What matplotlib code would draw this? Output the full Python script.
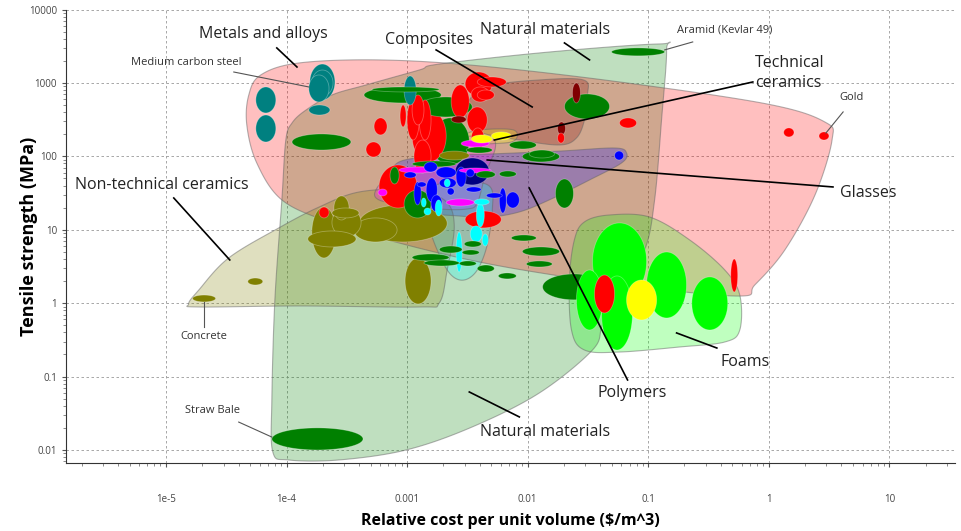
import matplotlib
matplotlib.use('Agg')
import matplotlib.pyplot as plt
import numpy as np

plt.rcParams['font.family'] = ['Open Sans', 'DejaVu Sans']

# material bubbles: (cost_lo, cost_hi, strength_lo, strength_hi)  [$/m^3 relative, MPa]
steels = [
    (5.56e-5, 8.15e-5, 390, 882), (5.56e-5, 8.15e-5, 157, 366),
    (1.56e-4, 2.52e-4, 587, 1810), (1.53e-4, 2.25e-4, 551, 1285),
    (1.62e-4, 2.43e-4, 665, 1500), (1.53e-4, 2.29e-4, 366, 501),
    (9.44e-4, 1.19e-3, 501, 1245),
]
nonferrous = [
    (5.32e-4, 6.82e-4, 196, 334), (4.56e-4, 6.08e-4, 98, 157),
    (8.74e-4, 9.81e-4, 252, 501), (1.00e-3, 1.26e-3, 167, 587),
    (1.10e-3, 1.38e-3, 268, 686), (1.26e-3, 1.58e-3, 167, 587),
    (1.10e-3, 2.11e-3, 84, 428), (5.85e-4, 1.21e-3, 19.8, 76.4),
    (1.14e-3, 1.58e-3, 59.4, 167), (2.32e-3, 3.28e-3, 334, 939),
    (3.03e-3, 5.09e-3, 665, 1410), (3.82e-3, 6.65e-3, 882, 1207),
    (3.82e-3, 5.29e-3, 587, 803), (3.15e-3, 4.62e-3, 208, 471),
    (3.40e-3, 4.80e-3, 551, 882), (3.40e-3, 4.37e-3, 122, 244),
    (5.78e-2, 8.01e-2, 244, 334), (1.77e-2, 2.02e-2, 152, 208),
    (1.33, 1.62, 184, 244), (2.61, 3.16, 167, 215),
    (0.484, 0.553, 1.42, 4.0), (3.58e-2, 5.26e-2, 0.735, 2.42),
    (3.03e-3, 6.04e-3, 10.6, 18.0), (1.86e-4, 2.25e-4, 14.5, 20.4),
]
composites = [
    (2.35e-2, 2.74e-2, 534, 1000), (1.77e-2, 2.06e-2, 196, 294),
    (2.32e-3, 3.09e-3, 285, 355),
]
natural = [
    (4.96e-2, 0.137, 2340, 3000), (7.55e-5, 4.31e-4, 0.010, 0.020),
    (1.11e-4, 3.42e-4, 122, 202), (4.39e-4, 1.92e-3, 534, 882),
    (5.12e-4, 1.85e-3, 754, 882), (1.26e-3, 3.47e-3, 344, 645),
    (1.58e-3, 3.28e-3, 76.4, 334), (2.02e-2, 4.78e-2, 323, 708),
    (7.05e-3, 1.18e-2, 126, 162), (9.03e-3, 1.84e-2, 83.9, 118),
    (1.03e-2, 1.67e-2, 95.1, 122), (5.82e-3, 8.05e-3, 52.4, 63.3),
    (1.70e-2, 2.40e-2, 19.8, 49.2), (3.75e-3, 5.39e-3, 50.8, 63.3),
    (7.32e-3, 1.18e-2, 7.04, 8.50), (1.85e-3, 2.86e-3, 4.83, 6.01),
    (2.98e-3, 4.12e-3, 5.83, 7.04), (2.86e-3, 3.97e-3, 4.54, 5.31),
    (9.03e-3, 1.84e-2, 4.40, 5.83), (9.75e-3, 1.60e-2, 3.11, 3.76),
    (3.82e-3, 5.29e-3, 2.66, 3.31), (5.71e-3, 8.05e-3, 2.14, 2.58),
    (1.10e-3, 2.23e-3, 3.76, 4.68), (1.38e-3, 2.71e-3, 3.21, 3.88),
    (2.71e-3, 3.75e-3, 3.21, 3.76), (1.33e-2, 4.43e-2, 1.11, 2.50),
    (9.44e-4, 1.58e-3, 14.5, 34.8), (7.22e-4, 8.58e-4, 42.1, 71.7),
    (1.10e-3, 2.55e-3, 71.7, 86.5), (3.09e-3, 5.09e-3, 111, 134),
]
nontech_ceramics = [
    (1.66e-5, 2.58e-5, 1.04, 1.29), (4.77e-5, 6.35e-5, 1.77, 2.20),
    (1.62e-4, 2.57e-4, 4.13, 20.4), (2.47e-4, 3.30e-4, 13.6, 28.9),
    (1.50e-4, 3.77e-4, 5.83, 9.63), (2.38e-4, 4.15e-4, 7.98, 19.8),
    (2.38e-4, 3.99e-4, 14.5, 19.8), (3.62e-4, 8.26e-4, 6.82, 14.5),
    (3.99e-4, 2.15e-3, 6.82, 21.8), (9.62e-4, 1.58e-3, 0.975, 4.13),
    (1.85e-3, 3.28e-3, 89.3, 118),
]
tech_ceramics = [
    (3.40e-3, 5.09e-3, 152, 196), (4.99e-3, 7.32e-3, 167, 215),
    (6.61e-2, 0.1175, 0.590, 2.07),
]
glasses = [
    (2.81e-3, 4.80e-3, 134, 167), (8.58e-4, 1.74e-3, 59.4, 71.7),
    (2.71e-3, 4.99e-3, 59.4, 69.5), (5.74e-4, 6.82e-4, 28.9, 35.9),
    (2.11e-3, 3.61e-3, 21.1, 26.3),
]
polymers = [
    (5.26e-2, 6.25e-2, 89.3, 118), (1.38e-3, 1.78e-3, 61.3, 83.9),
    (1.74e-3, 2.55e-3, 50.8, 71.7), (1.85e-3, 2.55e-3, 37.1, 50.8),
    (1.14e-3, 1.31e-3, 21.8, 44.8), (1.44e-3, 1.78e-3, 23.9, 50.8),
    (9.44e-4, 1.19e-3, 50.8, 61.3), (2.55e-3, 3.09e-3, 38.3, 71.7),
    (3.09e-3, 3.61e-3, 52.4, 67.3), (1.58e-3, 1.95e-3, 17.5, 29.8),
    (4.54e-3, 6.16e-3, 27.1, 31.7), (5.82e-3, 6.65e-3, 16.9, 37.1),
    (6.65e-3, 8.53e-3, 19.8, 32.7), (3.09e-3, 4.12e-3, 32.7, 38.3),
    (2.15e-3, 2.46e-3, 29.8, 37.1), (1.21e-3, 1.44e-3, 38.3, 44.8),
]
thermosets = [
    (2.51e-3, 4.80e-3, 40.8, 95.1),
]
elastomers = [
    (2.03e-3, 2.28e-3, 38.3, 49.2), (1.31e-3, 1.44e-3, 20.4, 27.1),
    (1.38e-3, 1.58e-3, 15.9, 19.8), (1.71e-3, 1.95e-3, 15.4, 25.5),
    (3.61e-3, 4.80e-3, 21.8, 26.3), (3.75e-3, 4.37e-3, 10.9, 23.2),
    (3.34e-3, 4.20e-3, 6.82, 11.3), (4.20e-3, 4.71e-3, 6.01, 8.77),
    (2.55e-3, 2.86e-3, 2.66, 9.33),
]
foams = [
    (3.45e-2, 9.70e-2, 1.11, 12.4), (9.70e-2, 0.208, 0.628, 4.98),
    (0.230, 0.457, 0.431, 2.28), (2.54e-2, 4.18e-2, 0.431, 2.83),
    (4.10e-2, 7.41e-2, 0.230, 2.35),
]

bubble_sets = [
    (natural, '#008000'), (nontech_ceramics, '#808000'), (steels, '#008080'),
    (nonferrous, '#ff0000'), (composites, '#800000'), (foams, '#00ff00'),
    (tech_ceramics, '#ffff00'), (glasses, '#ff00ff'), (polymers, '#0000ff'),
    (thermosets, '#000080'), (elastomers, '#00ffff'),
]

# family envelopes: outline points (cost, strength)
natural_env = [
    (9.86e-5, 167), (1.11e-4, 285), (1.45e-4, 428), (2.38e-4, 686), (4.56e-4, 939),
    (1.26e-3, 1500), (1.85e-3, 1810), (1.51e-2, 2640), (0.124, 3400), (0.142, 2820),
    (0.129, 313), (0.113, 25.5), (9.34e-2, 5.31), (5.78e-2, 1.51), (4.18e-2, 0.505),
    (3.45e-2, 0.230), (1.25e-2, 0.0598), (3.47e-3, 0.0206), (9.81e-4, 0.0100),
    (2.72e-4, 0.00731), (1.04e-4, 0.00731), (7.69e-5, 0.0094), (7.55e-5, 0.048),
    (8.0e-5, 1.11), (9.14e-5, 25.5),
]
metals_env = [
    (4.86e-5, 686), (6.11e-5, 1285), (1.26e-4, 1870), (5.85e-4, 2060), (3.97e-3, 1710),
    (5.78e-2, 1032), (0.964, 518), (2.92, 294), (3.35, 167), (2.42, 29.8), (1.36, 5.31),
    (0.766, 1.77), (0.575, 1.25), (8.49e-2, 1.66), (1.84e-2, 2.35), (3.97e-3, 3.64),
    (8.58e-4, 6.61), (2.25e-4, 12.8), (9.14e-5, 25.5), (5.66e-5, 81.3), (4.68e-5, 268),
]
nontech_env = [
    (1.54e-5, 0.975), (1.87e-5, 1.51), (3.31e-5, 4.13), (8.63e-5, 10.6), (1.86e-4, 20.4),
    (3.99e-4, 32.7), (1.04e-3, 34.8), (2.03e-3, 25.5), (2.46e-3, 11.6), (2.15e-3, 2.83),
    (1.85e-3, 1.01), (1.26e-3, 0.887), (1.26e-4, 0.916), (1.87e-5, 0.887),
]
foams_env = [
    (2.44e-2, 7.26), (2.96e-2, 12.8), (4.78e-2, 15.9), (0.1028, 14.9), (0.221, 7.26),
    (0.432, 2.83), (0.575, 1.29), (0.575, 0.431), (0.432, 0.296), (0.182, 0.253),
    (5.78e-2, 0.216), (2.96e-2, 0.230), (2.31e-2, 0.431), (2.22e-2, 2.07),
]
composites_env = [
    (3.28e-3, 587), (4.80e-3, 910), (1.25e-2, 1099), (2.90e-2, 1099), (3.14e-2, 686),
    (2.96e-2, 313), (2.54e-2, 178), (1.84e-2, 143), (8.53e-3, 167), (3.97e-3, 215),
    (3.09e-3, 334),
]
polymers_env = [
    (8.58e-4, 83.9), (1.85e-3, 101), (5.09e-3, 108), (1.84e-2, 118), (5.26e-2, 130),
    (6.61e-2, 111), (6.01e-2, 81.3), (3.26e-2, 47.7), (1.51e-2, 25.5), (8.53e-3, 17.5),
    (4.80e-3, 14.9), (2.71e-3, 15.4), (1.26e-3, 17.5), (8.58e-4, 25.5), (7.36e-4, 47.7),
]
glasses_env = [
    (5.42e-4, 32.7), (6.82e-4, 50.8), (1.26e-3, 81.3), (2.61e-3, 167), (3.61e-3, 190),
    (4.99e-3, 184), (5.39e-3, 130), (4.45e-3, 55.8), (3.82e-3, 23.2), (3.15e-3, 19.2),
    (1.85e-3, 19.2), (8.58e-4, 22.5), (5.85e-4, 25.5),
]
elastomers_env = [
    (1.47e-3, 34.8), (2.71e-3, 44.8), (4.80e-3, 39.5), (5.09e-3, 18.6), (4.62e-3, 6.21),
    (3.82e-3, 2.83), (2.98e-3, 2.07), (2.32e-3, 2.42), (1.85e-3, 4.54), (1.52e-3, 11.6),
]
tech_env = [
    (3.03e-3, 190), (3.61e-3, 222), (5.29e-3, 236), (7.61e-3, 229), (8.21e-3, 190),
    (7.32e-3, 157), (4.80e-3, 148), (3.28e-3, 143),
]

envelope_sets = [
    (natural_env, '#008000'), (metals_env, '#ff0000'), (nontech_env, '#808000'),
    (foams_env, '#00ff00'), (composites_env, '#800000'), (polymers_env, '#0000ff'),
    (glasses_env, '#ff00ff'), (elastomers_env, '#00ffff'), (tech_env, '#ffff00'),
]

# labels: (text, text position, leader start, leader end, size)
labels = [
    ('Metals and alloys', (6.47e-5, 4660), (8.30e-5, 3000), (1.22e-4, 1650), 11.5),
    ('Composites', (1.52e-3, 3850), (1.74e-3, 2820), (1.09e-2, 471), 11.5),
    ('Natural materials', (1.40e-2, 5270), (2.02e-2, 3510), (3.26e-2, 2060), 11.5),
    ('Aramid (Kevlar 49)', (0.432, 5270), (0.234, 3620), (0.137, 2820), 8),
    ('Technical\nceramics', (0.766, 1370), (0.738, 1032), (5.29e-3, 167), 11.5),
    ('Gold', (4.91, 625), (4.14, 403), (2.98, 208), 8),
    ('Medium carbon steel', (1.46e-5, 1930), (3.65e-5, 1410), (1.53e-4, 882), 8),
    ('Non-technical ceramics', (9.19e-6, 40.8), (1.16e-5, 27.1), (3.38e-5, 3.88), 11.5),
    ('Concrete', (2.05e-5, 0.347), (2.08e-5, 0.474), (2.08e-5, 1.04), 8),
    ('Straw Bale', (2.44e-5, 0.034), (4.01e-5, 0.024), (7.55e-5, 0.015), 8),
    ('Natural materials', (1.40e-2, 0.0176), (8.53e-3, 0.0282), (3.28e-3, 0.0617), 11.5),
    ('Polymers', (7.41e-2, 0.0598), (6.74e-2, 0.0899), (1.03e-2, 37.1), 11.5),
    ('Glasses', (6.67, 31.7), (3.41, 38.3), (4.62e-3, 89.3), 11.5),
    ('Foams', (0.633, 0.158), (0.371, 0.245), (0.172, 0.393), 11.5),
]


def smooth_closed(lx, ly, n=16):
    pts = np.column_stack([lx, ly])
    t = np.linspace(0, 1, n, endpoint=False)[:, None]
    segs = []
    m = len(pts)
    for i in range(m):
        p0, p1, p2, p3 = pts[i - 1], pts[i], pts[(i + 1) % m], pts[(i + 2) % m]
        segs.append(0.5 * (2 * p1 + (p2 - p0) * t + (2 * p0 - 5 * p1 + 4 * p2 - p3) * t ** 2
                           + (3 * p1 - p0 - 3 * p2 + p3) * t ** 3))
    out = np.vstack(segs)
    return out[:, 0], out[:, 1]


fig = plt.figure(figsize=(9.62, 5.31), dpi=100)
ax = fig.add_axes([0.0686, 0.128, 0.924, 0.854])
ax.set_xscale('log')
ax.set_yscale('log')

for env, col in envelope_sets:
    lx = np.log10([p[0] for p in env])
    ly = np.log10([p[1] for p in env])
    sx, sy = smooth_closed(lx, ly)
    ax.fill(10 ** sx, 10 ** sy, facecolor=col, alpha=0.25, zorder=1)
    ax.fill(10 ** sx, 10 ** sy, facecolor='none', edgecolor=(0.4, 0.4, 0.4, 0.5),
            lw=0.8, zorder=1.1)

allb = []
for rows, col in bubble_sets:
    for r in rows:
        allb.append((r, col))
allb.sort(key=lambda b: -(np.log10(b[0][1] / b[0][0]) * np.log10(b[0][3] / b[0][2])))

theta = np.linspace(0, 2 * np.pi, 72)
for (c0, c1, s0, s1), col in allb:
    cx, wx = (np.log10(c0) + np.log10(c1)) / 2, (np.log10(c1) - np.log10(c0)) / 2
    cy, wy = (np.log10(s0) + np.log10(s1)) / 2, (np.log10(s1) - np.log10(s0)) / 2
    ax.fill(10 ** (cx + wx * np.cos(theta)), 10 ** (cy + wy * np.sin(theta)),
            facecolor=col, edgecolor=(1, 1, 1, 0.3), lw=0.6, zorder=2)

for txt, pos, a, b, size in labels:
    small = size < 9
    ax.plot([a[0], b[0]], [a[1], b[1]], color='#555555' if small else 'k',
            lw=0.8 if small else 1.2, zorder=4)
    ax.text(pos[0], pos[1], txt, fontsize=size, color='#333333' if small else '#222222',
            ha='left' if txt.startswith('Technical') else 'center', va='center',
            linespacing=1.3, zorder=5)

ax.set_xlim(1.48e-6, 35)
ax.set_ylim(0.00664, 10000)

xt = [1e-5, 1e-4, 1e-3, 1e-2, 0.1, 1, 10]
ax.set_xticks(xt)
ax.set_xticklabels(['1e-5', '1e-4', '0.001', '0.01', '0.1', '1', '10'])
yt = [0.01, 0.1, 1, 10, 100, 1000, 10000]
ax.set_yticks(yt)
ax.set_yticklabels(['0.01', '0.1', '1', '10', '100', '1000', '10000'])
ax.tick_params(labelsize=7, labelcolor='#444444', color='#555555', length=3, width=0.8)
ax.tick_params(which='minor', length=2, width=0.6, color='#777777')
ax.tick_params(axis='x', which='major', pad=19)

ax.grid(True, which='major', color='#999999', ls=(0, (3, 3)), lw=0.6)
ax.set_axisbelow(True)
for s in ['top', 'right']:
    ax.spines[s].set_visible(False)
for s in ['left', 'bottom']:
    ax.spines[s].set_color('#333333')

ax.set_xlabel('Relative cost per unit volume (\\$/m^3)', fontsize=11.5, fontweight='bold')
ax.set_ylabel('Tensile strength (MPa)', fontsize=13, fontweight='bold')
ax.yaxis.set_label_coords(-0.031, 0.5)
ax.xaxis.set_label_coords(0.5, -0.11)

fig.savefig('out.png', dpi=100)
